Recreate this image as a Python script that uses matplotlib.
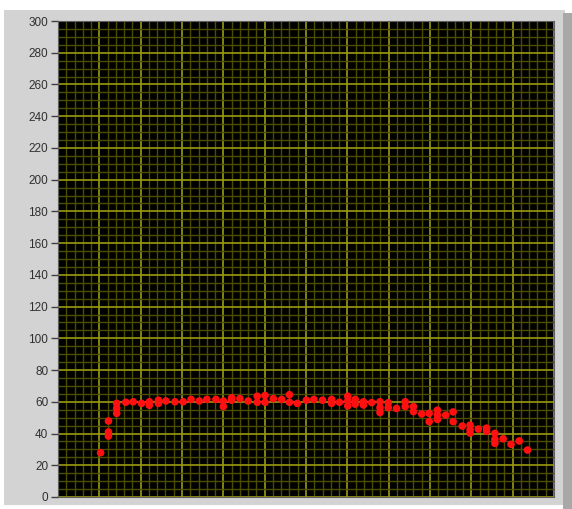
import matplotlib.pyplot as plt
from matplotlib.patches import Rectangle
from matplotlib.ticker import MultipleLocator, NullFormatter

# readings (x in sample index, y in value)
x_vals = [10.3, 12.2, 12.2, 12.2, 14.2, 14.2, 14.2, 16.4, 18.2, 20.2, 22.1, 22.1,
          24.3, 24.3, 26.1, 28.3, 30.3, 32.2, 34.2, 36.0, 38.2, 40.0, 40.0,
          42.0, 42.0, 44.0, 46.0, 48.2, 48.2, 50.1, 50.1, 52.1, 54.1, 56.0, 56.0,
          57.9, 60.1, 61.9, 64.0, 66.2, 66.2, 68.1, 70.1, 70.1, 70.1, 71.9, 71.9,
          73.9, 73.9, 75.9, 77.9, 77.9, 77.9, 79.9, 79.9, 81.9, 84.0, 84.0,
          86.0, 86.0, 88.0, 89.8, 89.8, 91.8, 91.8, 91.8, 93.8, 95.6, 95.6,
          97.8, 99.7, 99.7, 99.7, 101.7, 103.7, 103.7, 105.7, 105.7, 105.7,
          107.7, 109.6, 111.6, 113.6]
y_vals = [27.9, 47.9, 41.0, 38.4, 59.0, 55.9, 52.7, 59.7, 60.0, 59.0, 60.0, 57.8,
          61.0, 59.0, 60.5, 60.0, 60.0, 61.5, 60.5, 61.5, 61.5, 60.5, 57.0,
          62.5, 61.0, 62.0, 60.5, 63.5, 59.7, 64.0, 59.7, 62.0, 61.5, 64.5, 59.7,
          59.0, 61.0, 61.5, 61.0, 61.5, 59.0, 59.7, 63.5, 60.5, 57.4, 61.5, 58.5,
          60.0, 58.0, 59.5, 60.0, 56.3, 53.2, 59.4, 56.3, 55.8, 60.0, 57.0,
          57.0, 53.8, 52.3, 52.7, 47.5, 54.7, 51.6, 48.9, 51.6, 53.6, 47.5,
          44.7, 45.3, 42.4, 40.3, 42.8, 43.4, 41.4, 40.1, 36.3, 33.8,
          36.7, 33.2, 35.3, 29.6]

y_ticks = list(range(0, 301, 20))

fig = plt.figure(figsize=(5.72, 5.09), dpi=100, facecolor='white')

# LabVIEW style grey panel, kept behind the axes
panel = Rectangle((0.007, 0.008), 0.981, 0.972, transform=fig.transFigure,
                  facecolor='#d3d3d3', edgecolor='none', zorder=-10)
edge = Rectangle((0.984, 0.0), 0.016, 0.975, transform=fig.transFigure,
                 facecolor='#a8a8a8', edgecolor='none', zorder=-10)
fig.add_artist(panel)
fig.add_artist(edge)

ax = fig.add_axes([0.1014, 0.0236, 0.8671, 0.9351])
ax.set_zorder(1)
ax.set_facecolor('black')

ax.set_xlim(0, 120)
ax.set_ylim(0, 300)
ax.xaxis.set_major_locator(MultipleLocator(10))
ax.xaxis.set_minor_locator(MultipleLocator(2))
ax.yaxis.set_major_locator(MultipleLocator(20))
ax.yaxis.set_minor_locator(MultipleLocator(5))
ax.set_yticks(y_ticks)
ax.xaxis.set_major_formatter(NullFormatter())

ax.grid(which='minor', color='#4d4d00', linewidth=1.0)
ax.grid(which='major', color='#9a9a10', linewidth=1.2)
ax.set_axisbelow(True)

ax.tick_params(axis='x', which='both', length=0)
ax.tick_params(axis='y', which='minor', length=0)
ax.tick_params(axis='y', which='major', length=5, width=1, color='#404040',
               labelsize=8.5, labelcolor='#303030', pad=2)
for lbl in ax.get_yticklabels():
    lbl.set_fontfamily('Liberation Sans')

for s in ax.spines.values():
    s.set_color('#606060')
    s.set_linewidth(0.8)

ax.scatter(x_vals, y_vals, s=30, color='#ff1010', edgecolors='none', zorder=3)

plt.savefig('out.png', dpi=100, facecolor='white')
